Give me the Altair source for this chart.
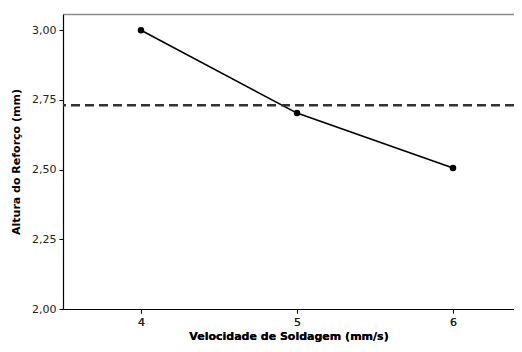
import altair as alt
import pandas as pd

speeds = [4, 5, 6]
heights = [3.00, 2.703, 2.506]
mean_height = [2.731]
y_ticks = [2.00, 2.25, 2.50, 2.75, 3.00]
x_ticks = [4, 5, 6]

df = pd.DataFrame({"v": speeds, "h": heights})
mean_df = pd.DataFrame({"m": mean_height})

FONT = "DejaVu Sans"
xscale = alt.Scale(domain=[3.5, 6.391], nice=False, zero=False)
yscale = alt.Scale(domain=[2.0, 3.0586], nice=False, zero=False)

x = alt.X("v:Q", title="Velocidade de Soldagem (mm/s)", scale=xscale,
          axis=alt.Axis(values=x_ticks, format="d", grid=False))
y = alt.Y("h:Q", title="Altura do Reforço (mm)", scale=yscale,
          axis=alt.Axis(values=y_ticks, grid=False,
                        labelExpr="replace(format(datum.value, '.2f'), '.', ',')"))

# top frame line as a labelless top axis
top = alt.Chart(df).mark_point(opacity=0).encode(
    x=alt.X("v:Q", scale=xscale,
            axis=alt.Axis(orient="top", labels=False, ticks=False, title=None,
                          domainColor="#8a8a8a", domainWidth=1.5, grid=False)),
    y=y,
)
line = alt.Chart(df).mark_line(color="black", strokeWidth=1.6).encode(x=x, y=y)
pts = alt.Chart(df).mark_point(filled=True, color="black", size=42, opacity=1).encode(x=x, y=y)
rule = alt.Chart(mean_df).mark_rule(color="#333333", strokeWidth=2.6, strokeDash=[9, 5]).encode(
    y=alt.Y("m:Q", scale=yscale))

chart = alt.layer(line, top, rule, pts).resolve_axis(x="independent").properties(
    width=451, height=295,
    autosize=alt.AutoSizeParams(type="none"),
    padding={"left": 55, "top": 6, "right": 0, "bottom": 35},
).configure_view(
    stroke=None
).configure_axis(
    domainColor="black", domainWidth=1.2, tickColor="black", tickSize=4,
    labelFont=FONT, labelFontSize=11, labelColor="#222222", labelPadding=3,
    titleFont=FONT, titleFontSize=11, titleFontWeight="bold", titleColor="black",
).configure_axisY(titlePadding=10).configure_axisX(titlePadding=3)

chart.save("out.html", embed_options={"renderer": "svg", "actions": False})
